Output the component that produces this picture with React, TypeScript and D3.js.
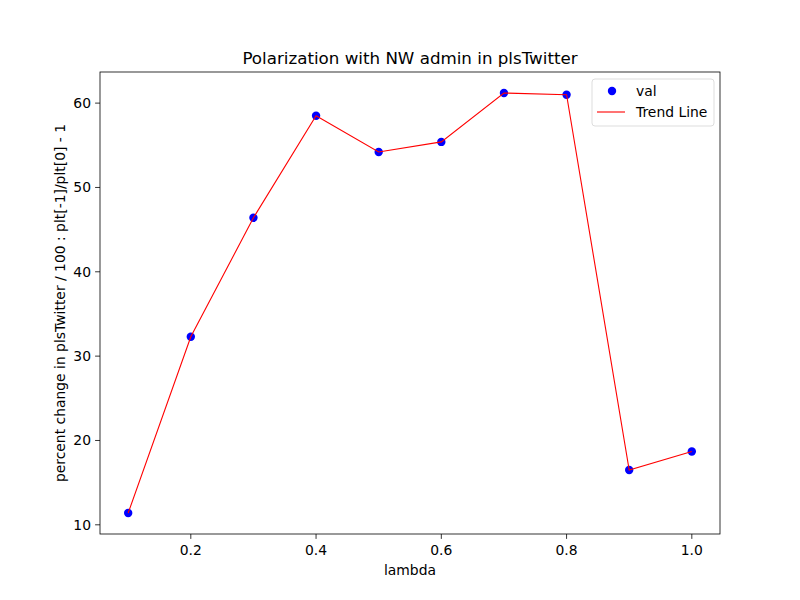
import React from "react";
import * as d3 from "d3";

const lambdas = [0.1, 0.2, 0.3, 0.4, 0.5, 0.6, 0.7, 0.8, 0.9, 1.0];
const values = [11.4, 32.3, 46.4, 58.5, 54.2, 55.4, 61.2, 61.0, 16.5, 18.7];
const xTicks = [0.2, 0.4, 0.6, 0.8, 1.0];
const yTicks = [10, 20, 30, 40, 50, 60];

export default function App() {
  const L = 100, R = 720, T = 72, B = 534;
  const xmin = d3.min(lambdas)!, xmax = d3.max(lambdas)!;
  const ymin = d3.min(values)!, ymax = d3.max(values)!;
  const xm = (xmax - xmin) * 0.05, ym = (ymax - ymin) * 0.05;
  const x = d3.scaleLinear().domain([xmin - xm, xmax + xm]).range([L, R]);
  const y = d3.scaleLinear().domain([ymin - ym, ymax + ym]).range([B, T]);
  const line = d3.line<number>().x((_, i) => x(lambdas[i])).y((d) => y(d));
  const font = "DejaVu Sans";
  const fs = 13.9;
  return (
    <svg width={800} height={600} style={{ position: "absolute", left: 0, top: 0, fontFamily: font }}>
      <rect width={800} height={600} fill="white" />
      <text x={410} y={64} textAnchor="middle" fontSize={16.7}>Polarization with NW admin in plsTwitter</text>
      {values.map((v, i) => (
        <circle key={i} cx={x(lambdas[i])} cy={y(v)} r={4.2} fill="blue" />
      ))}
      <path d={line(values)!} fill="none" stroke="red" strokeWidth={1.1} />
      <rect x={L} y={T} width={R - L} height={B - T} fill="none" stroke="black" strokeWidth={0.8} />
      {xTicks.map((t) => (
        <g key={t}>
          <line x1={x(t)} x2={x(t)} y1={B} y2={B + 4.9} stroke="black" strokeWidth={0.8} />
          <text x={x(t)} y={B + 21} textAnchor="middle" fontSize={fs}>{t.toFixed(1)}</text>
        </g>
      ))}
      {yTicks.map((t) => (
        <g key={t}>
          <line x1={L - 4.9} x2={L} y1={y(t)} y2={y(t)} stroke="black" strokeWidth={0.8} />
          <text x={L - 9} y={y(t) + 5} textAnchor="end" fontSize={fs}>{t}</text>
        </g>
      ))}
      <text x={410} y={575} textAnchor="middle" fontSize={fs}>lambda</text>
      <text transform={`translate(65,${(T + B) / 2}) rotate(-90)`} textAnchor="middle" fontSize={fs}>
        percent change in plsTwitter / 100 : plt[-1]/plt[0] - 1
      </text>
      <g>
        <rect x={592} y={79} width={122} height={47} rx={3} fill="white" stroke="#cccccc" strokeWidth={0.8} opacity={0.8} />
        <circle cx={612} cy={91} r={4.2} fill="blue" />
        <text x={636} y={96} fontSize={fs}>val</text>
        <line x1={597} x2={625} y1={112} y2={112} stroke="red" strokeWidth={1.1} />
        <text x={636} y={117} fontSize={fs}>Trend Line</text>
      </g>
    </svg>
  );
}
